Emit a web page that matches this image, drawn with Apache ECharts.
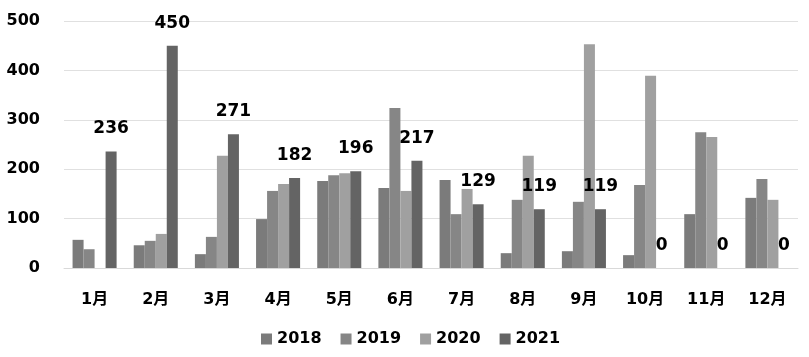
<!DOCTYPE html>
<html><head><meta charset="utf-8">
<script src="https://cdn.jsdelivr.net/npm/echarts@6/dist/echarts.min.js"></script>
<style>html,body{margin:0;padding:0;background:#fff}#c{width:809px;height:357px}</style>
</head><body><div id="c"></div>
<script>
var categories = ['1月','2月','3月','4月','5月','6月','7月','8月','9月','10月','11月','12月'];
var seriesNames = ['2018','2019','2020','2021'];
var s2018 = [57, 46, 28, 99, 176, 162, 178, 30, 34, 26, 109, 142];
var s2019 = [38, 55, 63, 156, 188, 324, 109, 138, 134, 168, 275, 180];
var s2020 = [null, 69, 227, 170, 192, 156, 160, 227, 453, 389, 265, 138];
var s2021 = [236, 450, 271, 182, 196, 217, 129, 119, 119, 0, 0, 0];
var yTicks = [0, 100, 200, 300, 400, 500];
var colors = ['#7b7b7b', '#868686', '#a0a0a0', '#646464'];
var font = '"DejaVu Sans","Noto Sans CJK SC",sans-serif';
var data = [s2018, s2019, s2020, s2021];
var chart = echarts.init(document.getElementById('c'));
chart.setOption({
  animation: false,
  grid: {left: 64, right: 11, top: 21, bottom: 89},
  legend: {
    bottom: 10, left: 261, padding: 0, itemWidth: 11, itemHeight: 11, itemGap: 19,
    icon: 'rect',
    textStyle: {fontFamily: font, fontWeight: 'bold', fontSize: 16, color: '#000'},
    data: seriesNames
  },
  xAxis: {
    type: 'category', data: categories,
    axisLine: {lineStyle: {color: '#d9d9d9'}},
    axisTick: {show: false},
    axisLabel: {margin: 24, fontFamily: font, fontWeight: 'bold', fontSize: 16, color: '#000'}
  },
  yAxis: {
    type: 'value', min: yTicks[0], max: yTicks[yTicks.length-1], interval: 100,
    axisLine: {show: false}, axisTick: {show: false},
    splitLine: {lineStyle: {color: '#e0e0e0'}},
    axisLabel: {margin: 24, fontFamily: font, fontWeight: 'bold', fontSize: 16, color: '#000'}
  },
  series: seriesNames.map(function(n, i){
    var s = {
      name: n, type: 'bar', data: data[i], barGap: '0%', barCategoryGap: '28%',
      itemStyle: {color: colors[i]}
    };
    if (i === 3) {
      s.label = {show: true, position: 'top', distance: 14, fontFamily: font, fontWeight: 'bold', fontSize: 17, color: '#000'};
    }
    return s;
  })
});
</script></body></html>
